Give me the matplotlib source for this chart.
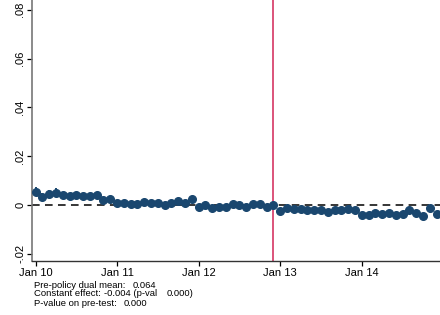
import matplotlib.pyplot as plt

plt.rcParams['font.family'] = ['Liberation Sans', 'DejaVu Sans']

# monthly coefficients, Jan 2010 .. Dec 2014 (month index 0..59)
coef = [0.0055, 0.0034, 0.0045, 0.0051, 0.0040, 0.0038, 0.0042, 0.0038, 0.0037, 0.0040,
        0.0022, 0.0026, 0.0008, 0.0008, 0.0005, 0.0005, 0.0012, 0.0008, 0.0008, 0.0001,
        0.0010, 0.0018, 0.0010, 0.0026, -0.0008, 0.0001, -0.0011, -0.0010, -0.0010, 0.0005,
        0.0002, -0.0010, 0.0004, 0.0003, -0.0007, 0.0001, -0.0023, -0.0014, -0.0018, -0.0018,
        -0.0020, -0.0021, -0.0021, -0.0027, -0.0020, -0.0022, -0.0018, -0.0022, -0.0040, -0.0042,
        -0.0032, -0.0038, -0.0033, -0.0040, -0.0038, -0.0020, -0.0032, -0.0047, -0.0014, -0.0038]
ci_half = [0.0018, 0.0016, 0.0015, 0.0017, 0.0014, 0.0013, 0.0013, 0.0012, 0.0012, 0.0012,
           0.0010, 0.0010] + [0.0009] * 48
months = list(range(len(coef)))

policy_month = 35
tick_pos = [0, 12, 24, 36, 48]
tick_labels = ["Jan 10", "Jan 11", "Jan 12", "Jan 13", "Jan 14"]
ytick_pos = [-0.02, 0, 0.02, 0.04, 0.06, 0.08]
ytick_labels = ["-.02", "0", ".02", ".04", ".06", ".08"]

navy = "#1a476f"

fig = plt.figure(figsize=(4.4, 3.15), dpi=100)
ax = fig.add_axes([0.073, 0.171, 0.927, 0.829])

ax.axhline(0, color="black", lw=1.1, ls=(0, (5, 3.5)), zorder=1)
ax.axvline(policy_month, color="#d9456f", lw=1.3, zorder=2)
ax.errorbar(months, coef, yerr=ci_half, fmt="o", color=navy, ms=5.5, elinewidth=1.4,
            capsize=0, zorder=3)

ax.set_xlim(-0.5, 59.5)
ax.set_ylim(-0.023, 0.084)
ax.set_xticks(tick_pos)
ax.set_xticklabels(tick_labels, fontsize=8)
ax.set_yticks(ytick_pos)
ax.set_yticklabels(ytick_labels, fontsize=8, rotation=90, va="center")

ax.spines["top"].set_visible(False)
ax.spines["right"].set_visible(False)
ax.spines["left"].set_color("#777777")
ax.spines["left"].set_linewidth(1.2)
ax.spines["bottom"].set_color("#333333")
ax.spines["bottom"].set_linewidth(1.0)
ax.tick_params(axis="both", direction="out", length=3.5, width=0.9, pad=1.5)

# note text under the plot
fs = 6.8
fig.text(34 / 440, 1 - 285 / 315, "Pre-policy dual mean:", fontsize=fs, va="center")
fig.text(133 / 440, 1 - 285 / 315, "0.064", fontsize=fs, va="center")
fig.text(34 / 440, 1 - 294 / 315, "Constant effect:", fontsize=fs, va="center")
fig.text(104 / 440, 1 - 294 / 315, "-0.004 (p-val", fontsize=fs, va="center")
fig.text(167 / 440, 1 - 294 / 315, "0.000)", fontsize=fs, va="center")
fig.text(34 / 440, 1 - 303 / 315, "P-value on pre-test:", fontsize=fs, va="center")
fig.text(124 / 440, 1 - 303 / 315, "0.000", fontsize=fs, va="center")

fig.savefig("out.png", dpi=100)
